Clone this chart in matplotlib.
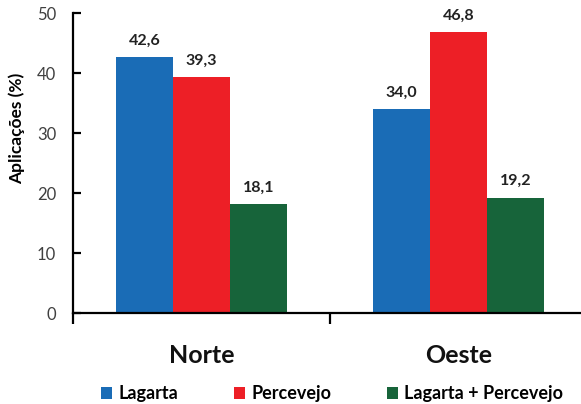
import matplotlib.pyplot as plt
import numpy as np

plt.rcParams['font.family'] = ['Lato', 'DejaVu Sans']

regions = ['Norte', 'Oeste']
series = ['Lagarta', 'Percevejo', 'Lagarta + Percevejo']
lagarta = [42.6, 34.0]
percevejo = [39.3, 46.8]
ambos = [18.1, 19.2]
colors = ['#1a6cb6', '#ed1f26', '#17643a']

fig = plt.figure(figsize=(5.81, 4.04), dpi=100)
ax = fig.add_axes([0.1256, 0.2252, 0.8847, 0.7426])

x = np.arange(len(regions))
w = 0.222
for i, (vals, c, name) in enumerate(zip([lagarta, percevejo, ambos], colors, series)):
    pos = x + (i - 1) * w
    bars = ax.bar(pos, vals, w, color=c, label=name)
    for b, v in zip(bars, vals):
        ax.text(b.get_x() + b.get_width() / 2, v + 1.6, f'{v:.1f}'.replace('.', ','),
                ha='center', va='bottom', fontsize=11.5, fontweight='bold', color='#222222')

ax.set_xlim(-0.5, 1.5)
ax.set_ylim(0, 50)
ax.set_yticks(range(0, 51, 10))
ax.set_xticks(x)
ax.set_xticklabels(regions, fontsize=18, fontweight='bold')
ax.set_xticks([-0.5, 0.5, 1.5], minor=True)
ax.tick_params(axis='x', which='major', length=0, pad=22, colors='#111111')
ax.tick_params(axis='x', which='minor', length=8, width=1.6, direction='out', color='black')
ax.tick_params(axis='y', length=6, width=1.6, direction='in', labelsize=12,
               labelcolor='#404040', pad=12)
for s in ['top', 'right']:
    ax.spines[s].set_visible(False)
for s in ['left', 'bottom']:
    ax.spines[s].set_linewidth(1.6)

ax.set_ylabel('Aplicações (%)', fontsize=12.5, fontweight='bold')
ax.yaxis.set_label_coords(-0.093, 0.615)

fig.legend(loc='center', bbox_to_anchor=(0.572, 0.025), ncol=3, frameon=False,
           handlelength=0.6, handleheight=0.6, handletextpad=0.35, columnspacing=3.1,
           prop={'size': 13, 'weight': 'bold'})

fig.savefig('out.png', dpi=100)
